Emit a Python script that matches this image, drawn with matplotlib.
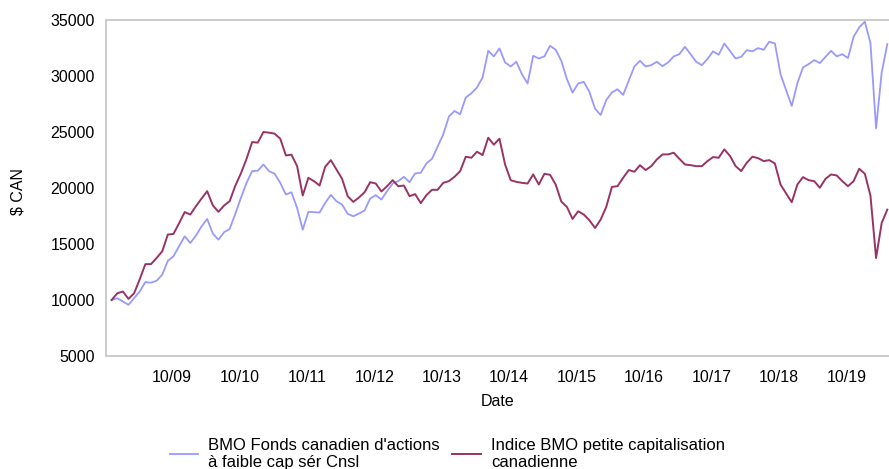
import numpy as np
import matplotlib
matplotlib.use("Agg")
import matplotlib.pyplot as plt

plt.rcParams['font.family'] = ['Liberation Sans', 'DejaVu Sans']

# monthly values, starting end of 2008
fund = [10000, 10160, 9870, 9570, 10160, 10760, 11600, 11540, 11720, 12250,
        13500, 13900, 14790, 15690, 15090, 15750, 16580, 17240, 15930, 15390,
        16050, 16340, 17690, 19120, 20460, 21500, 21540, 22100, 21510, 21270,
        20460, 19420, 19620, 18220, 16280, 17870, 17840, 17810, 18670, 19390,
        18820, 18520, 17690, 17480, 17720, 17990, 19060, 19360, 18970, 19720,
        20400, 20610, 21000, 20520, 21300, 21360, 22190, 22610, 23690, 24790,
        26370, 26880, 26580, 28080, 28460, 28970, 29870, 32250, 31750, 32460,
        31210, 30850, 31270, 30160, 29330, 31800, 31570, 31750, 32700, 32340,
        31360, 29720, 28520, 29330, 29480, 28580, 27090, 26520, 27860, 28520,
        28820, 28310, 29570, 30850, 31360, 30850, 30970, 31270, 30880, 31210,
        31750, 31950, 32610, 31950, 31270, 30970, 31510, 32200, 31900, 32900,
        32250, 31570, 31710, 32310, 32200, 32490, 32340, 33060, 32910, 30160,
        28730, 27330, 29360, 30760, 31060, 31420, 31150, 31710, 32250, 31750,
        31950, 31600, 33500, 34340, 34850, 32950, 25330, 30320, 32850]

index = [10000, 10600, 10760, 10100, 10600, 11850, 13200, 13200, 13750, 14340,
         15840, 15900, 16850, 17850, 17630, 18370, 19060, 19720, 18450, 17870,
         18430, 18820, 20200, 21300, 22600, 24100, 24050, 25000, 24940, 24850,
         24400, 22910, 22970, 21955, 19330, 20910, 20610, 20220, 21900, 22490,
         21660, 20820, 19270, 18760, 19150, 19620, 20520, 20400, 19690, 20160,
         20700, 20160, 20220, 19270, 19450, 18650, 19360, 19840, 19840, 20460,
         20610, 21000, 21500, 22790, 22700, 23240, 22940, 24490, 23870, 24400,
         22100, 20700, 20550, 20460, 20400, 21210, 20310, 21270, 21180, 20310,
         18790, 18310, 17240, 17920, 17630, 17120, 16430, 17180, 18310, 20100,
         20160, 20910, 21600, 21450, 22040, 21600, 21950, 22550, 23000, 23000,
         23150, 22610, 22100, 22040, 21950, 21950, 22400, 22760, 22700, 23450,
         22870, 21960, 21510, 22260, 22790, 22670, 22400, 22490, 22190, 20310,
         19510, 18730, 20310, 20970, 20700, 20610, 20020, 20820, 21210, 21120,
         20610, 20160, 20610, 21720, 21270, 19330, 13750, 16880, 18070]

tick_labels = ['10/09', '10/10', '10/11', '10/12', '10/13', '10/14',
               '10/15', '10/16', '10/17', '10/18', '10/19']
yticks = [5000, 10000, 15000, 20000, 25000, 30000, 35000]

fund_label = "BMO Fonds canadien d'actions\nà faible cap sér Cnsl"
index_label = "Indice BMO petite capitalisation\ncanadienne"

W, H = 889, 469
fig = plt.figure(figsize=(W / 100, H / 100), dpi=100)
ax = fig.add_axes([106 / W, 1 - 356 / H, 783 / W, 336 / H])

months = np.arange(len(fund))
l1, = ax.plot(months, fund, color='#9999ff', lw=1.3)
l2, = ax.plot(months, index, color='#993366', lw=1.4)

ax.set_xlim(-1.0, 138.3)
ax.set_ylim(5000, 35000)
ax.set_yticks(yticks)
ax.set_xticks([10.75 + 12 * i for i in range(len(tick_labels))])
ax.set_xticklabels(tick_labels)
ax.tick_params(length=0, labelsize=11.5, colors='black')
ax.tick_params(axis='y', pad=8)
ax.tick_params(axis='x', pad=10)

for side in ['left', 'top', 'bottom']:
    ax.spines[side].set_color('#c8c8c8')
    ax.spines[side].set_linewidth(1.3)
ax.spines['right'].set_visible(False)

ax.set_ylabel('$ CAN', fontsize=11.5)
ax.yaxis.set_label_coords(-0.103, 0.49)
ax.set_xlabel('Date', fontsize=11.5)
ax.xaxis.set_label_coords(0.5, -0.113)

fig.legend([l1, l2], [fund_label, index_label], loc='upper left',
           bbox_to_anchor=(170 / W, 1 - 438 / H), ncol=2, frameon=False,
           fontsize=12, handlelength=1.7, handletextpad=0.6,
           columnspacing=0.75, borderpad=0, borderaxespad=0)

fig.savefig('out.png', dpi=100)
